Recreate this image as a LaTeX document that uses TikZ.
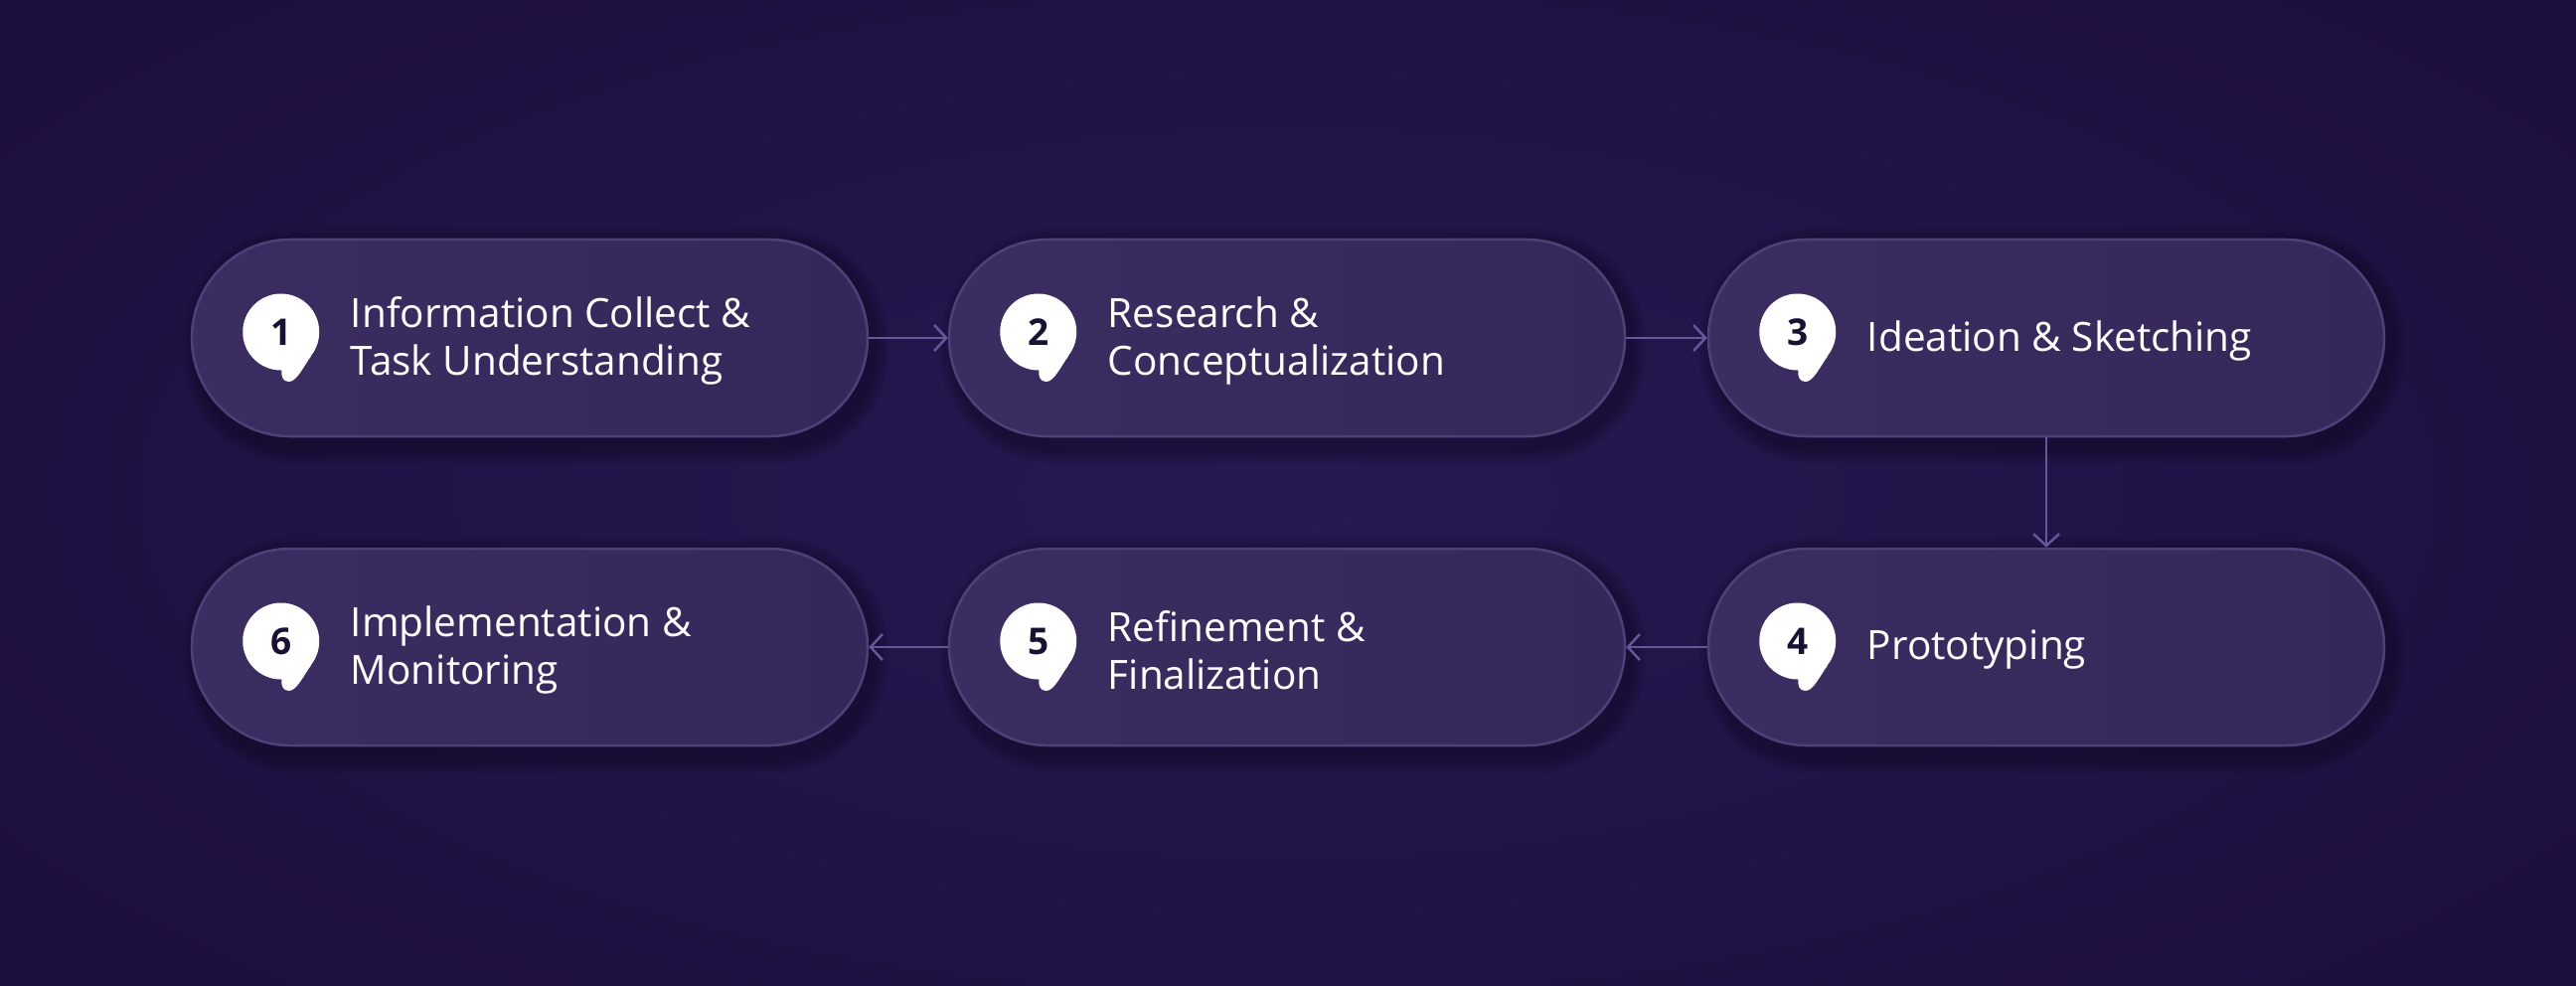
\documentclass[tikz,border=0pt]{standalone}
\usepackage{fontspec}
\setmainfont{Open Sans}
\usetikzlibrary{arrows.meta,calc}
\definecolor{bgA}{HTML}{1D0F3E}
\definecolor{bgB}{HTML}{271852}
\definecolor{pillL}{HTML}{3B2D61}
\definecolor{pillR}{HTML}{352759}
\definecolor{pillline}{HTML}{4F4178}
\definecolor{arrowc}{HTML}{66569A}
\definecolor{numc}{HTML}{1A1032}
\pgfdeclarelayer{bg}
\pgfsetlayers{bg,main}
\begin{document}
\begin{tikzpicture}[x=1pt,y=-1pt,
  pill/.style={draw=pillline, line width=2.5pt, left color=pillL, right color=pillR,
    rounded corners=99pt, minimum width=680pt, minimum height=198pt, inner sep=0pt, rectangle},
  badge/.style={circle, fill=white, minimum size=77pt, inner sep=0pt, text=numc,
    font=\fontsize{37}{37}\selectfont\bfseries},
  txt/.style={anchor=west, inner sep=0pt, align=left, text=white,
    font=\fontsize{40.5}{48}\selectfont},
  conn/.style={draw=arrowc, line width=2.5pt, -{Straight Barb[length=12pt,width=26pt,line width=2.5pt]}},
  shadowlayer/.style={fill=black, opacity=0.07, rounded corners=#1}
]
\useasboundingbox (0,0) rectangle (2592,992);
\begin{pgfonlayer}{bg}
\fill[bgA] (0,0) rectangle (2592,992);
\shade[inner color=bgB, outer color=bgA] (-300,-200) rectangle (2892,1192);
\end{pgfonlayer}

\node[pill] (p1) at (533,340) {};
\node[pill] (p2) at (1295,340) {};
\node[pill] (p3) at (2059,340) {};
\node[pill] (p4) at (2059,651) {};
\node[pill] (p5) at (1295,651) {};
\node[pill] (p6) at (533,651) {};

\begin{pgfonlayer}{bg}
\foreach \p in {p1,p2,p3,p4,p5,p6}{
  \foreach \e in {2,6,10,14}{
    \fill[shadowlayer=99pt+\e pt] ($(\p.north west)+(6-\e,4-\e)$) rectangle ($(\p.south east)+(6+\e,12+\e)$);
  }
}
\end{pgfonlayer}

\foreach \p/\n in {p1/1,p2/2,p3/3,p4/4,p5/5,p6/6}{
  \node[badge] (b\n) at ($(\p.west)+(91,-6)$) {\n};
  \begin{scope}[shift={(b\n.center)}]
    \fill[white] (0.5,38) .. controls (0,45) and (2,50) .. (8,50)
      .. controls (16,50) and (23,34) .. (30.5,24) -- cycle;
  \end{scope}
}

\node[txt] (t1) at ($(p1.west)+(161,3)$) {Information Collect \&\\Task Understanding};
\node[txt] (t2) at ($(p2.west)+(161,3)$) {Research \&\\Conceptualization};
\node[txt] (t3) at ($(p3.west)+(161,3)$) {Ideation \& Sketching};
\node[txt] (t4) at ($(p4.west)+(161,3)$) {Prototyping};
\node[txt] (t5) at ($(p5.west)+(161,3)$) {Refinement \&\\Finalization};
\node[txt] (t6) at ($(p6.west)+(161,3)$) {Implementation \&\\Monitoring};

\draw[conn] (p1.east) -- (p2.west);
\draw[conn] (p2.east) -- (p3.west);
\draw[conn] (p3.south) -- (p4.north);
\draw[conn] (p4.west) -- (p5.east);
\draw[conn] (p5.west) -- (p6.east);
\end{tikzpicture}
\end{document}
